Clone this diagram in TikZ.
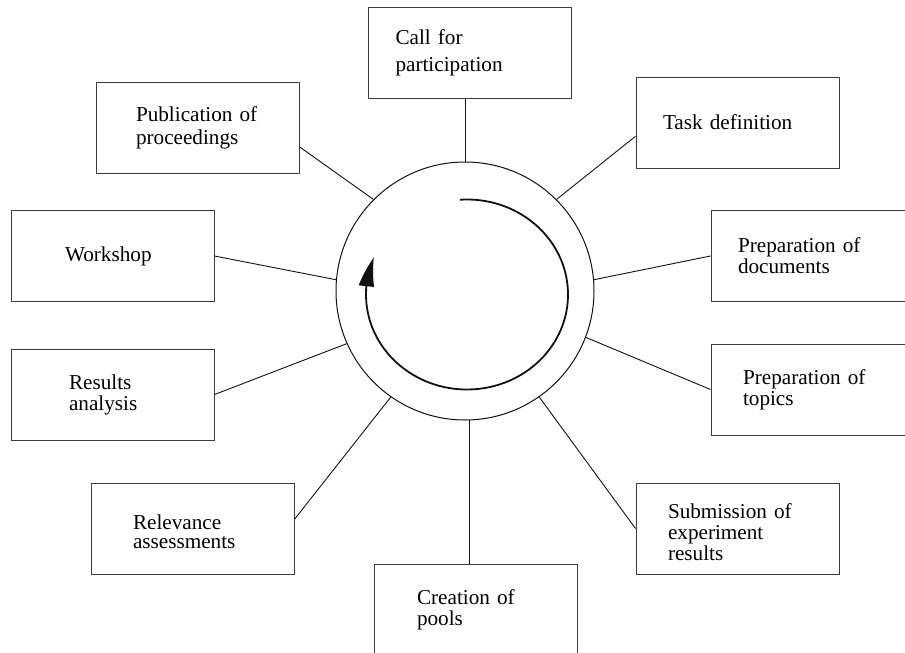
\documentclass[tikz,border=0pt]{standalone}
\usepackage{fontspec}
\setmainfont{Liberation Serif}
\usepackage{xcolor}
\usetikzlibrary{calc,arrows.meta,bending}
\definecolor{cgray}{HTML}{3c3c3c}
\definecolor{cblack}{HTML}{111111}

\begin{document}
\begin{tikzpicture}[x=0.5pt, y=-0.5pt,
		stage/.style={draw=cgray, line width=0.5pt, minimum height=45.5pt, inner ysep=0pt, inner xsep=#1, text width=101.5pt-2*#1, align=left, font=\fontsize{10.6pt}{10.5pt}\selectfont},
		stage/.default=13.5pt,
		link/.style={draw=cblack, line width=0.45pt},
		cyc/.style={draw=cblack, line width=0.9pt, -{Triangle[length=15pt, width=7.5pt, bend]}}]
		\useasboundingbox (0,0) rectangle (905,653);
		\clip (0,0) rectangle (905,653);
		% the cycle in the middle
		\node[circle, draw=cblack, line width=0.5pt, minimum size=129pt, inner sep=0pt] (Cycle) at (465,291) {};
		\draw[cyc] ([shift={(94:50.5pt and 47.5pt)}]467,294.5) arc[start angle=94, end angle=-203, x radius=50.5pt, y radius=47.5pt];
		% the stages, clockwise from the top
		\node[stage, font=\fontsize{10.6pt}{13.5pt}\selectfont] (Call) at (470,53) {Call for\\participation};
		\node[stage] (Task) at (737.5,122.5) {Task definition};
		\node[stage] (Docs) at (812.5,256) {Preparation of\\documents};
		\node[stage=16pt] (Topics) at (812.5,389.5) {Preparation of\\topics};
		\node[stage=16pt, text height=11pt] (Subm) at (737.5,528.5) {Submission of\\experiment\\results};
		\node[stage=21.5pt] (Pools) at (475.5,609.5) {Creation of\\pools};
		\node[stage=21pt, text height=11pt, font=\fontsize{10.6pt}{9.5pt}\selectfont] (Relev) at (192.5,528.5) {Relevance\\assessments};
		\node[stage=29pt] (Results) at (112.5,394.5) {Results\\analysis};
		\node[stage=27pt] (Workshop) at (112.5,256) {Workshop};
		\node[stage=20pt, font=\fontsize{10.6pt}{11.5pt}\selectfont] (Publ) at (197.5,127.5) {Publication of\\proceedings};
		% spokes
		\draw[link] (Cycle.90) -- (Cycle.90 |- Call.south);
		\draw[link] (Cycle.45) -- ($(Task.north west)!.65!(Task.south west)$);
		\draw[link] (Cycle.5) -- (Docs.west);
		\draw[link] (Cycle.-21) -- (Topics.west);
		\draw[link] (Cycle.-55) -- (Subm.west);
		\draw[link] (Cycle.-88) -- (Cycle.-88 |- Pools.north);
		\draw[link] (Cycle.-125) -- ($(Relev.north east)!.4!(Relev.south east)$);
		\draw[link] (Cycle.204) -- (Results.east);
		\draw[link] (Cycle.175) -- (Workshop.east);
		\draw[link] (Cycle.135) -- ($(Publ.north east)!.71!(Publ.south east)$);
\end{tikzpicture}
\end{document}
